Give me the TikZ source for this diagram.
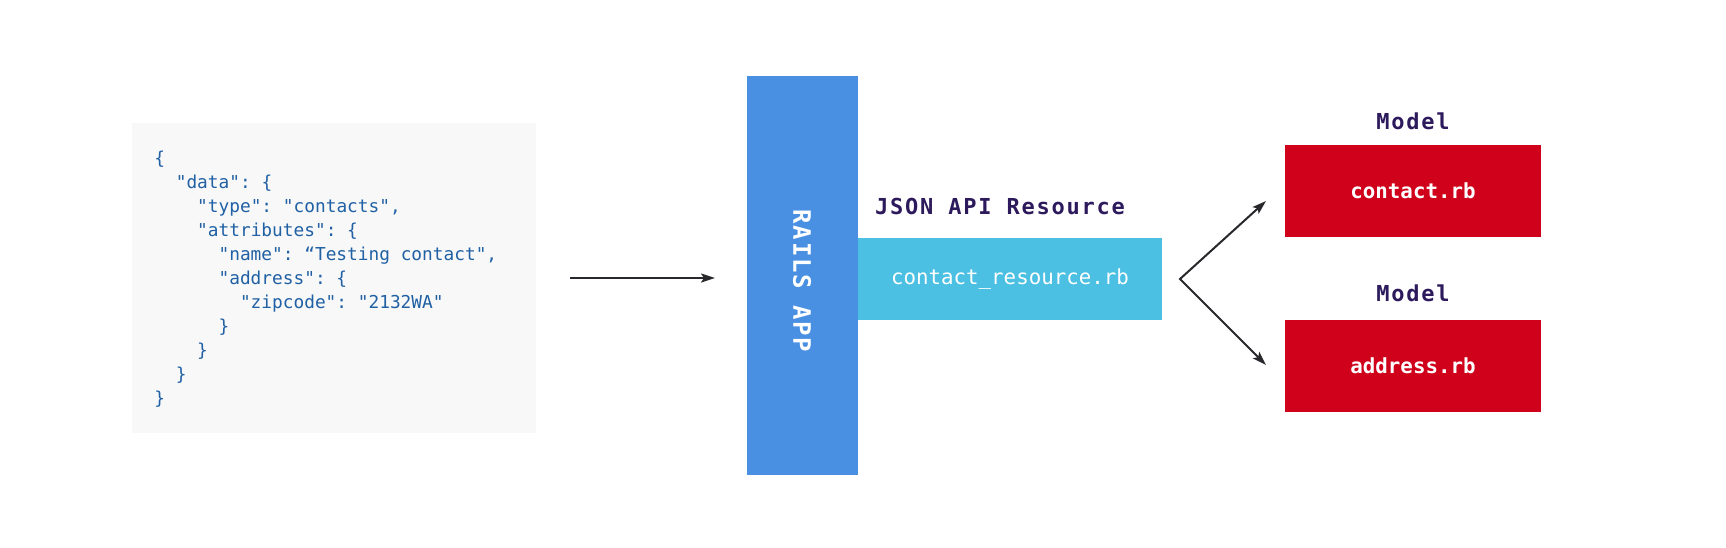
\documentclass[tikz,border=0pt]{standalone}
\usepackage{fontspec}
\setmonofont{DejaVu Sans Mono}
\newfontfamily\railsfont[LetterSpace=7.5]{DejaVu Sans Mono}
\newfontfamily\titlefont[LetterSpace=8]{DejaVu Sans Mono}
\usetikzlibrary{arrows.meta,positioning}
\definecolor{codegray}{RGB}{248,248,248}
\definecolor{codeblue}{RGB}{32,96,164}
\definecolor{railsblue}{RGB}{74,144,226}
\definecolor{resblue}{RGB}{76,192,226}
\definecolor{modelred}{RGB}{208,2,27}
\definecolor{titlepurple}{RGB}{45,26,92}
\definecolor{arrowgray}{RGB}{40,40,44}
\def\codeindent{21.4}
\def\codestep{24}

\begin{document}
\begin{tikzpicture}[x=0.5pt,y=-0.5pt,>={Stealth[length=7pt,width=4.5pt,inset=1.5pt]}]
        \tikzstyle{box}=[inner sep=0pt,outer sep=0pt]
        \tikzstyle{code box}=[box,fill=codegray,minimum width=202pt,minimum height=155pt]
        \tikzstyle{code line}=[inner sep=0pt,anchor=base west,text=codeblue,font=\fontsize{8.9}{10}\ttfamily]
        \tikzstyle{rails box}=[box,fill=railsblue,minimum width=55.5pt,minimum height=199.5pt]
        \tikzstyle{resource box}=[box,fill=resblue,minimum width=152pt,minimum height=41pt,text=white,font=\fontsize{10.4}{12}\ttfamily]
        \tikzstyle{model box}=[box,fill=modelred,minimum width=128pt,minimum height=46pt,text=white,font=\fontsize{10.4}{12}\ttfamily\bfseries]
        \tikzstyle{title}=[inner sep=0pt,anchor=base,text=titlepurple,font=\fontsize{11}{13}\titlefont\bfseries]
        \tikzstyle{arrow}=[->,draw=arrowgray,line width=1pt]

        \useasboundingbox (0,0) rectangle (1726,547);

        % Draw the JSON request body
        \node[code box] (json) at (334,278) {};
        \foreach \ind / \txt [count=\i from 0] in {0/\{, 1/{"data": \{}, 2/{"type": "contacts",},
                2/{"attributes": \{}, 3/{"name": “Testing contact",}, 3/{"address": \{},
                4/{"zipcode": "2132WA"}, 3/\}, 2/\}, 1/\}, 0/\}}
        \node[code line] (line-\i) at ({154+\codeindent*\ind},{164.3+\codestep*\i}) {\txt};

        % Draw the app and its resource
        \node[rails box] (rails) at (802.5,275.5) {};
        \node[rotate=-90,text=white,font=\fontsize{12}{14}\railsfont\bfseries] (rails-label) at (802,281) {RAILS APP};
        \node[resource box,anchor=west] (res) at (858,279) {contact\_resource.rb};
        \node[title] (res-title) at (1000,214) {JSON API Resource};

        % Draw the models
        \node[model box] (contact) at (1413,191) {contact.rb};
        \node[model box] (address) at (1413,366) {address.rb};
        \node[title] (contact-title) at (1413,129.5) {Model};
        \node[title] (address-title) at (1413,301.5) {Model};

        % Connect the request to the app, and the resource to the models
        \draw[arrow,shorten <=17pt,shorten >=16pt] (json.east) -- (json.east -| rails.west);
        \coordinate (fork) at ([xshift=9pt]res.east);
        \coordinate (to-contact) at (1266,201);
        \coordinate (to-address) at (1266,365);
        \draw[arrow,<->] (to-contact) -- (fork) -- (to-address);
    \end{tikzpicture}
\end{document}
